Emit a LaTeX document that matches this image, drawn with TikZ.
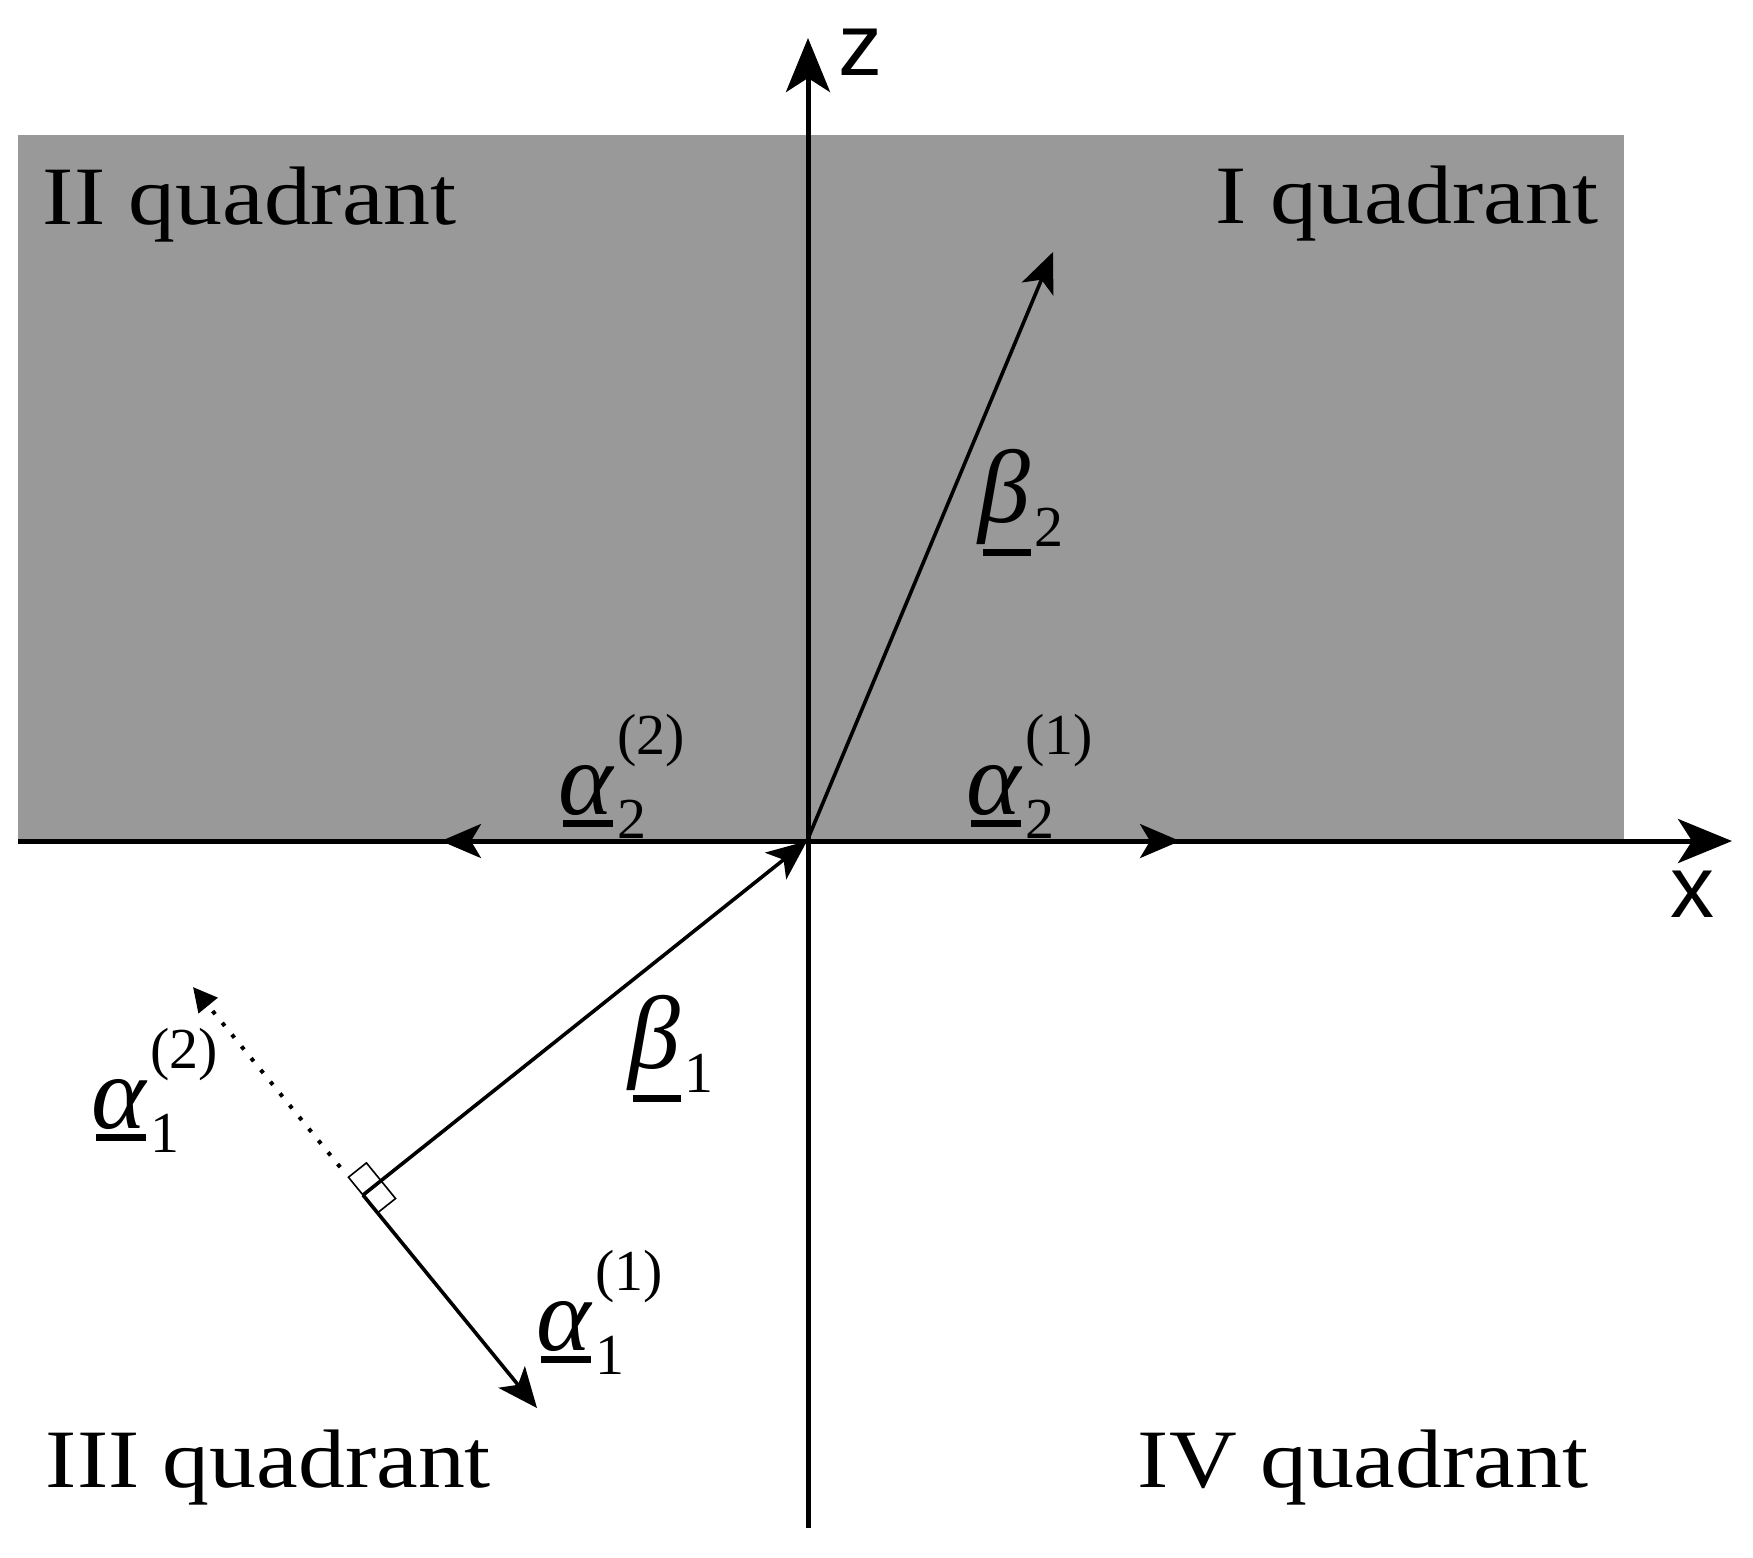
\documentclass[tikz,border=0pt]{standalone}
\usepackage{fontspec}
\setmainfont{Liberation Serif}
\newfontfamily\quadfont{Liberation Serif}[FakeStretch=1.13]
\newfontfamily\axisfont{Liberation Sans}
\usetikzlibrary{arrows.meta,calc}
\definecolor{halfgray}{gray}{0.6}
\newcommand{\ulsym}[1]{\leavevmode\vtop{\hbox{\kern-1pt\itshape #1}\kern1.2pt\hrule height 1.7pt}}
\newcommand{\vlab}[3]{\ulsym{#1}{\fontsize{14.5}{14.5}\selectfont\kern1pt\rlap{\raisebox{-6pt}{#2}}\raisebox{15pt}{#3}}}
\tikzset{
 axisline/.style={line width=1.25pt,-{Stealth[length=13.5pt,width=11pt,inset=3.5pt]}},
 vecline/.style={line width=0.9pt,-{Stealth[length=10pt,width=8.5pt,inset=2.5pt]}},
 dotline/.style={line width=1pt,dash pattern=on 1pt off 2.8pt,-{Triangle[length=6pt,width=6pt]}},
 quadlabel/.style={anchor=base west,inner sep=0pt,font=\quadfont\fontsize{20.75}{24}\selectfont},
 veclabel/.style={anchor=base west,inner sep=0pt,font=\fontsize{26}{30}\selectfont},
 axislabel/.style={anchor=base west,inner sep=0pt,font=\axisfont\fontsize{22}{26}\selectfont}
}

\begin{document}
\begin{tikzpicture}[x=0.25pt,y=-0.25pt]
\useasboundingbox (0,0) rectangle (1753,1557);
\fill[halfgray] (18,135) rectangle (1624,841);

\coordinate (O) at (807,841);
\coordinate (xStart) at (18,841);
\coordinate (xTip) at (1732,841);
\coordinate (zStart) at (808,1528);
\coordinate (zTip) at (808,38);
\coordinate (P) at (363,1195);
\coordinate (b2Tip) at (1053,252);
\coordinate (a11Tip) at (537,1408);
\coordinate (a12Tip) at (193,987);
\coordinate (a21Tip) at (1180,841);
\coordinate (a22Tip) at (441,841);

% axes
\draw[axisline] (xStart) -- (xTip);
\draw[axisline] (zStart) -- (zTip);
\node[axislabel] (zlab) at (838,75) {z};
\node[axislabel] (xlab) at (1670,917) {x};

% vectors
\draw[vecline] (O) -- (b2Tip);
\draw[vecline] (O) -- (a21Tip);
\draw[vecline] (O) -- (a22Tip);
\draw[vecline] (P) -- (O);
\draw[vecline] (P) -- (a11Tip);
\coordinate (dotStart) at ($(P)!9pt!(a12Tip)$);
\draw[dotline] (dotStart) -- (a12Tip);

% right angle
\coordinate (ua) at ($(P)!5.75pt!(a11Tip)$);
\coordinate (ub) at ($(P)!5.75pt!(O)$);
\coordinate (uc) at ($(P)!5.75pt!(a12Tip)$);
\draw[line width=0.4pt] (ua) -- ($(ua)+(ub)-(P)$) -- ($(uc)+(ub)-(P)$) -- (uc) -- cycle;

\node[veclabel] (lb2) at (982,522) {\vlab{β}{2}{}};
\node[veclabel] (lb1) at (632,1068) {\vlab{β}{1}{}};
\node[veclabel] (la22) at (562,814) {\vlab{α}{2}{(2)}};
\node[veclabel] (la21) at (970,814) {\vlab{α}{2}{(1)}};
\node[veclabel] (la12) at (95,1128) {\vlab{α}{1}{(2)}};
\node[veclabel] (la11) at (540,1350) {\vlab{α}{1}{(1)}};

\node[quadlabel] (q2) at (42,224) {II quadrant};
\node[quadlabel] (q1) at (1215,223) {I quadrant};
\node[quadlabel] (q3) at (45,1487) {III quadrant};
\node[quadlabel] (q4) at (1137,1487) {IV quadrant};
\end{tikzpicture}
\end{document}
